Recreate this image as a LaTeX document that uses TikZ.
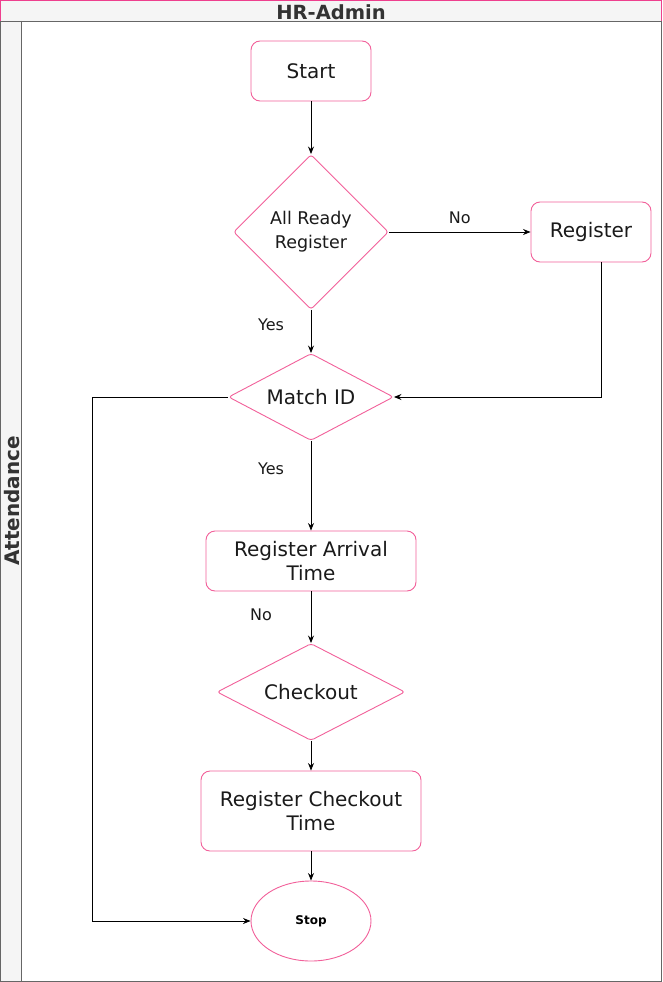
\documentclass[tikz,border=0pt]{standalone}
\usepackage{fontspec}
\setmainfont{DejaVu Sans}
\usepackage{tikz}
\usetikzlibrary{shapes.geometric,arrows.meta,calc}
\definecolor{mypink}{HTML}{F2609A}
\definecolor{mytop}{HTML}{EE3F8E}
\definecolor{myhead}{HTML}{F5F5F5}
\definecolor{myframe}{HTML}{666666}
\definecolor{mytext}{HTML}{1A1A1A}

\begin{document}
\begin{tikzpicture}[x=1pt,y=-1pt,
    proc/.style={draw=mypink,line width=0.9pt,fill=white,rounded corners=9pt,inner sep=0pt,align=center,
        font=\fontsize{20}{24.5}\selectfont,text=mytext},
    decide/.style={draw=mypink,line width=0.9pt,fill=white,diamond,rounded corners=3pt,inner sep=0pt,align=center,
        font=\fontsize{20}{24.5}\selectfont,text=mytext},
    flow/.style={-{Stealth[length=7.5pt,width=6pt]},black,line width=0.9pt},
    lbl/.style={font=\fontsize{16}{19}\selectfont,text=mytext}]

\useasboundingbox (0,0) rectangle (662,982);

% lane
\fill[myhead] (0.5,0.5) rectangle (661.5,21);
\fill[myhead] (0.5,21) rectangle (21,981.5);
\draw[myframe] (0.5,21) rectangle (661.5,981.5);
\draw[myframe] (21,21) -- (21,981.5);
\draw[mytop] (0.5,21) -- (0.5,0.5) -- (661.5,0.5) -- (661.5,21);
\node[font=\bfseries\fontsize{19.5}{22}\selectfont,text=black!80,inner sep=0pt] (head) at (331,12) {HR-Admin};
\node[font=\bfseries\fontsize{20}{23}\selectfont,text=black!80,rotate=90,inner sep=0pt] (lane) at (12,501) {Attendance};

% steps
\node[proc,minimum width=120pt,minimum height=60pt] (start) at (311,71) {Start};
\node[decide,minimum width=155pt,minimum height=155pt,font=\fontsize{17.5}{24}\selectfont] (ready) at (311,232) {All Ready\\Register};
\node[proc,minimum width=120pt,minimum height=60pt] (reg) at (591,232) {Register};
\node[decide,minimum width=165pt,minimum height=87pt,aspect=1.9] (match) at (311,397) {Match ID};
\node[proc,minimum width=210pt,minimum height=60pt] (arrive) at (311,561) {Register Arrival\\Time};
\node[decide,minimum width=188pt,minimum height=97pt,aspect=1.94] (check) at (311,692) {Checkout};
\node[proc,minimum width=220pt,minimum height=80pt] (leave) at (311,811) {Register Checkout\\Time};
\node[draw=mypink,line width=0.9pt,fill=white,ellipse,minimum width=120pt,minimum height=80pt,inner sep=0pt,
    font=\bfseries\fontsize{12}{14}\selectfont] (stop) at (311,921) {Stop};

\coordinate (regdown) at ($(reg.south)+(10,0)$);
\coordinate (left1) at (92,397);
\coordinate (left2) at (92,921);

% connectors
\draw[flow] (start) -- (ready);
\draw[flow] (ready.east) -- node[lbl,above=4pt] {No} (reg.west);
\draw[flow] (regdown) |- (match.east);
\draw[flow] (ready.south) -- (match.north);
\node[lbl] (yes1) at (271,325) {Yes};
\draw[flow] (match.south) -- (arrive.north);
\node[lbl] (yes2) at (271,469) {Yes};
\draw[flow] (match.west) -- (left1) -- (left2) -- (stop.west);
\draw[flow] (arrive.south) -- (check.north);
\node[lbl] (no2) at (261,615) {No};
\draw[flow] (check.south) -- (leave.north);
\draw[flow] (leave.south) -- (stop.north);

\end{tikzpicture}
\end{document}
